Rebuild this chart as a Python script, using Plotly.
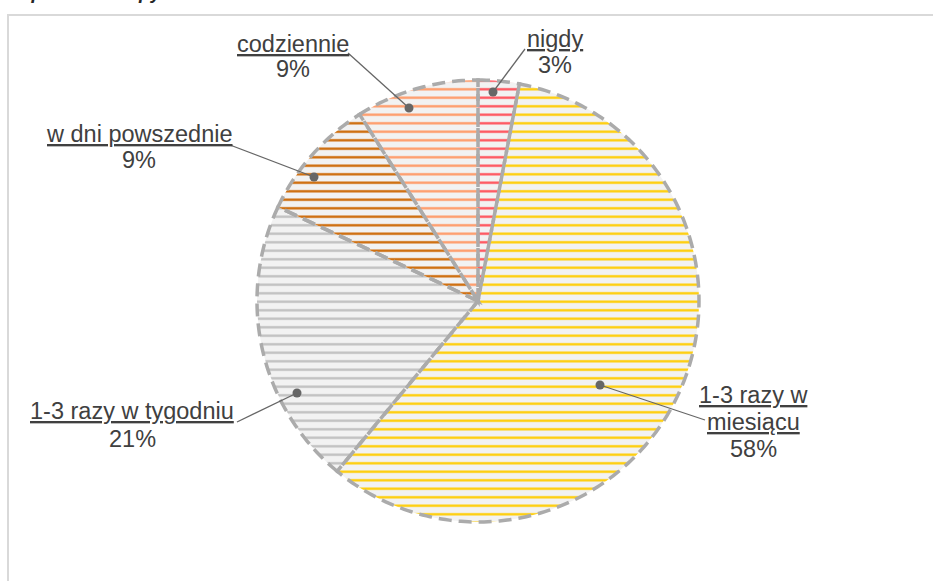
import math
import plotly.graph_objects as go

# Answer shares (percent), in clockwise order starting at 12 o'clock
categories = ["nigdy", "1-3 razy w miesiącu", "1-3 razy w tygodniu", "w dni powszednie", "codziennie"]
shares = [3, 58, 21, 9, 9]
stripe_colors = ["#FF4F58", "#FFCC00", "#BFBFBF", "#CC6600", "#FF9966"]

# where the long category names break onto a second line
wrap_after = {"1-3 razy w miesiącu": "1-3 razy w"}

W, H = 933, 581
CX, CY, R = 478, 301, 221

# label placement in page pixels: text centre x, baselines of the name lines,
# baseline of the percent line, connector end on the label, connector dot in the slice
label_layout = [
    dict(xc=555, name_base=[47], pct_base=73, end=(525, 49), dot=(493, 92)),
    dict(xc=753, name_base=[403, 430], pct_base=457, end=(705, 420), dot=(600, 385)),
    dict(xc=132, name_base=[419], pct_base=447, end=(237, 422), dot=(297, 393)),
    dict(xc=139, name_base=[142], pct_base=168, end=(230, 145), dot=(314, 177)),
    dict(xc=293, name_base=[52], pct_base=77, end=(348, 53), dot=(409, 108)),
]

FONT = "Liberation Sans, Arial, sans-serif"
FS = 23.5
TEXT_COLOR = "#404040"
EDGE_COLOR = "#ABABAB"
LEADER_COLOR = "#666666"


def px(x):
    return x / W


def py(y):
    return 1 - y / H


fig = go.Figure()

fig.add_trace(go.Pie(
    values=shares,
    labels=categories,
    sort=False,
    direction="clockwise",
    rotation=0,
    textinfo="none",
    hoverinfo="label+percent",
    showlegend=False,
    marker=dict(
        colors=stripe_colors,
        line=dict(width=0),
        pattern=dict(
            shape="-",
            fillmode="replace",
            fgcolor=stripe_colors,
            bgcolor="#F2F2F2",
            size=8.5,
            solidity=0.27,
        ),
    ),
    domain=dict(x=[px(CX - R), px(CX + R)], y=[py(CY + R), py(CY - R)]),
))

shapes = []

# outer frame of the chart area
shapes.append(dict(
    type="rect", xref="paper", yref="paper",
    x0=px(8), y0=py(15), x1=1.02, y1=-0.02,
    line=dict(color="#D9D9D9", width=2), layer="below",
))

# dashed outline of every slice, following the cumulative shares
total = sum(shares)
cum = 0
for v in shares:
    a0 = cum / total * 2 * math.pi
    a1 = (cum + v) / total * 2 * math.pi
    cum += v
    n = max(4, int(math.degrees(a1 - a0)))
    pts = [(CX, CY)]
    for k in range(n + 1):
        a = a0 + (a1 - a0) * k / n
        pts.append((CX + R * math.sin(a), CY - R * math.cos(a)))
    path = "M " + " L ".join(f"{px(x):.5f},{py(y):.5f}" for x, y in pts) + " Z"
    shapes.append(dict(
        type="path", xref="paper", yref="paper", path=path,
        line=dict(color=EDGE_COLOR, width=3.5, dash="13px,7px"),
        layer="above",
    ))

annotations = []
for cat, v, lay in zip(categories, shares, label_layout):
    if cat in wrap_after:
        first = wrap_after[cat]
        lines = [first, cat[len(first):].strip()]
    else:
        lines = [cat]
    for text, base in zip(lines, lay["name_base"]):
        annotations.append(dict(
            x=px(lay["xc"]), y=py(base - 0.35 * FS), xref="paper", yref="paper",
            xanchor="center", yanchor="middle", showarrow=False,
            text=f"<u>{text}</u>",
            font=dict(family=FONT, size=FS, color=TEXT_COLOR),
        ))
    annotations.append(dict(
        x=px(lay["xc"]), y=py(lay["pct_base"] - 0.35 * FS), xref="paper", yref="paper",
        xanchor="center", yanchor="middle", showarrow=False,
        text=f"{v}%",
        font=dict(family=FONT, size=FS, color=TEXT_COLOR),
    ))
    (ex, ey), (dx, dy) = lay["end"], lay["dot"]
    shapes.append(dict(
        type="line", xref="paper", yref="paper",
        x0=px(dx), y0=py(dy), x1=px(ex), y1=py(ey),
        line=dict(color=LEADER_COLOR, width=1.3), layer="above",
    ))
    rd = 4.5
    shapes.append(dict(
        type="circle", xref="paper", yref="paper",
        x0=px(dx - rd), y0=py(dy + rd), x1=px(dx + rd), y1=py(dy - rd),
        fillcolor=LEADER_COLOR, line=dict(width=0), layer="above",
    ))

# heading of the page section, sitting above the top edge of the page
annotations.append(dict(
    x=px(3), y=1, xref="paper", yref="paper",
    xanchor="left", yanchor="bottom", yshift=-5, showarrow=False,
    text="<b><i>Odpowiedź na pytanie</i></b>",
    font=dict(family=FONT, size=19, color="#262626"),
))

fig.update_layout(
    width=W, height=H,
    margin=dict(l=0, r=0, t=0, b=0),
    paper_bgcolor="white",
    plot_bgcolor="white",
    shapes=shapes,
    annotations=annotations,
)

fig.write_html("out.html")
